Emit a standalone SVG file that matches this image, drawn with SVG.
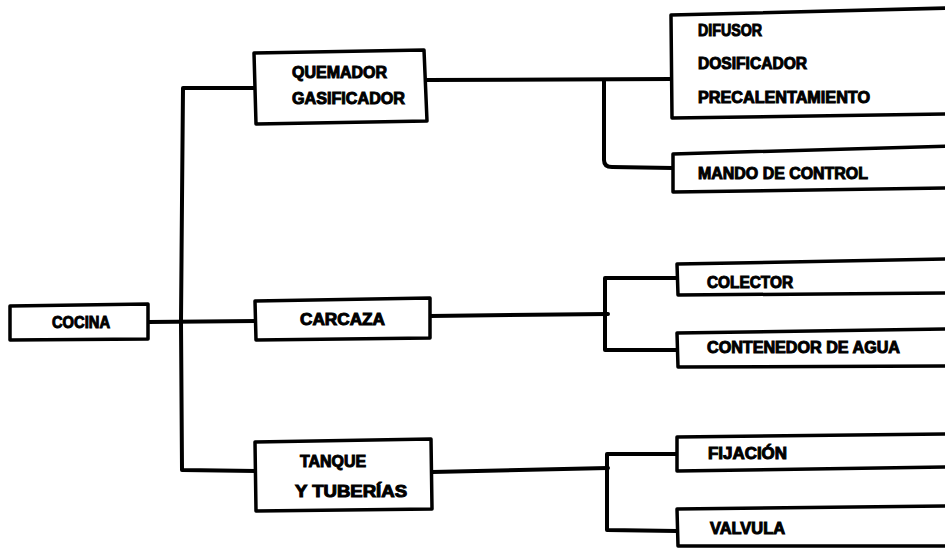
<svg xmlns="http://www.w3.org/2000/svg" width="945" height="548" viewBox="0 0 945 548">
  <style>
    .box { fill: #fff; stroke: #000; stroke-width: 3.5; stroke-linejoin: round; }
    .wire { fill: none; stroke: #000; stroke-width: 4; stroke-linejoin: round; stroke-linecap: round; }
    .lbl { font-family: "Liberation Sans", Arial, sans-serif; font-weight: bold; font-size: 16px; fill: #000; stroke: #000; stroke-width: 1; }
  </style>
  <rect width="945" height="548" fill="#fff"/>

  <!-- connectors -->
  <g id="connectors">
    <!-- root to first level -->
    <path class="wire" d="M148 322 L256 321"/>
    <path class="wire" d="M254 88 L183 88 L182 200 L181 322 L182 470 L256 471"/>
    <!-- quemador branch -->
    <path class="wire" d="M427 80 L672 79"/>
    <path class="wire" d="M604 80 L604 160 Q604 167 612 167 L673 168"/>
    <!-- carcaza branch -->
    <path class="wire" d="M430 316 L608 314"/>
    <path class="wire" d="M677 278 L605 278 L605 350 L677 350"/>
    <!-- tanque branch -->
    <path class="wire" d="M432 472 L608 468"/>
    <path class="wire" d="M677 454 L607 454 L607 530 L677 531"/>
  </g>

  <!-- nodes -->
  <g id="cocina">
    <path class="box" d="M10 306 L148 304 L148 339 L10 340 Z"/>
    <text class="lbl" x="52" y="328" textLength="58" lengthAdjust="spacingAndGlyphs">COCINA</text>
  </g>

  <g id="quemador">
    <path class="box" d="M254 53 L424 50 L427 121 L256 124 Z"/>
    <text class="lbl" x="292" y="78" textLength="95" lengthAdjust="spacingAndGlyphs">QUEMADOR</text>
    <text class="lbl" x="292" y="104" textLength="113" lengthAdjust="spacingAndGlyphs">GASIFICADOR</text>
  </g>

  <g id="carcaza">
    <path class="box" d="M255 301 L430 298 L430 338 L256 340 Z"/>
    <text class="lbl" x="300" y="325" textLength="85" lengthAdjust="spacingAndGlyphs">CARCAZA</text>
  </g>

  <g id="tanque">
    <path class="box" d="M255 442 L431 439 L432 509 L256 511 Z"/>
    <text class="lbl" x="300" y="467" textLength="66" lengthAdjust="spacingAndGlyphs">TANQUE</text>
    <text class="lbl" x="295" y="497" textLength="112" lengthAdjust="spacingAndGlyphs">Y TUBERÍAS</text>
  </g>

  <g id="difusor">
    <path class="box" d="M950 8 L671 15 L672 118 L950 114"/>
    <text class="lbl" x="698" y="36" textLength="64" lengthAdjust="spacingAndGlyphs">DIFUSOR</text>
    <text class="lbl" x="698" y="69" textLength="109" lengthAdjust="spacingAndGlyphs">DOSIFICADOR</text>
    <text class="lbl" x="698" y="103" textLength="172" lengthAdjust="spacingAndGlyphs">PRECALENTAMIENTO</text>
  </g>

  <g id="mando">
    <path class="box" d="M950 146 L673 154 L673 192 L950 188"/>
    <text class="lbl" x="698" y="179" textLength="170" lengthAdjust="spacingAndGlyphs">MANDO DE CONTROL</text>
  </g>

  <g id="colector">
    <path class="box" d="M950 259 L677 264 L678 295 L950 293"/>
    <text class="lbl" x="707" y="288" textLength="86" lengthAdjust="spacingAndGlyphs">COLECTOR</text>
  </g>

  <g id="contenedor">
    <path class="box" d="M950 329 L677 333 L678 367 L950 366"/>
    <text class="lbl" x="707" y="353" textLength="193" lengthAdjust="spacingAndGlyphs">CONTENEDOR DE AGUA</text>
  </g>

  <g id="fijacion">
    <path class="box" d="M950 434 L677 437 L677 471 L950 467"/>
    <text class="lbl" x="708" y="459" textLength="79" lengthAdjust="spacingAndGlyphs">FIJACIÓN</text>
  </g>

  <g id="valvula">
    <path class="box" d="M950 506 L677 509 L678 546 L950 546"/>
    <text class="lbl" x="710" y="534" textLength="75" lengthAdjust="spacingAndGlyphs">VALVULA</text>
  </g>
</svg>
